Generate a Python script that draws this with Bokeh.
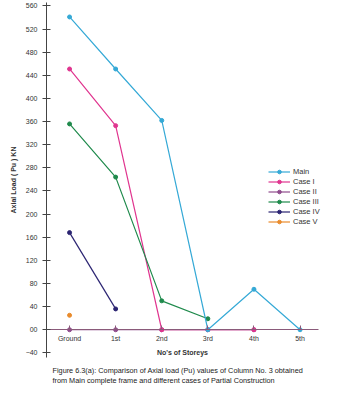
from bokeh.plotting import figure
from bokeh.models import Legend, LegendItem, Title, FixedTicker
from bokeh.embed import file_html
from bokeh.resources import INLINE

storeys = ["Ground", "1st", "2nd", "3rd", "4th", "5th"]
main = [541, 451, 362, 0, 70, 0]
case_i = [451, 353, 0, 0, 0]
case_ii = [0, 0, 0, 0, 0]
case_iii = [356, 264, 50, 19]
case_iv = [168, 36]
case_v = [25]
y_ticks = list(range(-40, 561, 40))

series = [
    ("Main", main, "#35a9d6"),
    ("Case I", case_i, "#e0358f"),
    ("Case II", case_ii, "#8f4b8c"),
    ("Case III", case_iii, "#1f8a4c"),
    ("Case IV", case_iv, "#2b2472"),
    ("Case V", case_v, "#e98b2c"),
]

FONT = "Liberation Sans"

p = figure(width=351, height=405, x_range=(-0.5, 6.116), y_range=(-48, 566),
           output_backend="svg", toolbar_location=None,
           min_border_left=46, min_border_right=0, min_border_top=2, min_border_bottom=48)
p.outline_line_color = None
p.grid.visible = False
p.background_fill_color = "white"

renderers = {}
draw_order = ["Case II", "Case I", "Case III", "Case IV", "Case V", "Main"]
lookup = {s[0]: s for s in series}
for name in draw_order:
    _, vals, col = lookup[name]
    xs = list(range(len(vals)))
    l = p.line(xs, vals, line_color=col, line_width=1.2)
    c = p.scatter(xs, vals, size=4, fill_color=col, line_color=col)
    renderers[name] = [l, c]

items = [LegendItem(label=name, renderers=renderers[name]) for name, _, _ in series]
legend = Legend(items=items, location=(222, 131), border_line_color=None,
                background_fill_alpha=0, label_text_font=FONT, label_text_font_size="7.5px",
                label_text_color="#333333", glyph_width=22, glyph_height=9, label_height=9,
                spacing=1, padding=2, margin=0, label_standoff=3)
p.add_layout(legend)

# x axis crossing at zero
xa = p.xaxis[0]
xa.fixed_location = 0
xa.bounds = (-0.5, 5.4)
xa.ticker = FixedTicker(ticks=list(range(len(storeys))))
xa.major_label_overrides = {i: s for i, s in enumerate(storeys)}
xa.major_tick_in = 4
xa.major_tick_out = 0
xa.minor_tick_line_color = None
xa.axis_line_color = "#8a5a7a"
xa.major_tick_line_color = "#8a5a7a"
xa.major_label_text_font = FONT
xa.major_label_text_font_size = "7px"
xa.major_label_text_color = "#333333"
xa.axis_label = "No's of Storeys"
xa.axis_label_text_font = FONT
xa.axis_label_text_font_size = "7px"
xa.axis_label_text_font_style = "bold"
xa.axis_label_text_color = "#333333"
xa.axis_label_standoff = 4

ya = p.yaxis[0]
ya.ticker = FixedTicker(ticks=y_ticks)
ya.major_label_overrides = {0: "00"}
ya.major_tick_in = 4
ya.major_tick_out = 4
ya.minor_tick_line_color = None
ya.axis_line_color = "#444444"
ya.major_tick_line_color = "#444444"
ya.major_label_text_font = FONT
ya.major_label_text_font_size = "7px"
ya.major_label_text_color = "#333333"
ya.axis_label = "Axial Load ( Pu ) KN"
ya.axis_label_text_font = FONT
ya.axis_label_text_font_size = "7px"
ya.axis_label_text_font_style = "bold"
ya.axis_label_text_color = "#333333"
ya.axis_label_standoff = 6

cap = ("Figure 6.3(a): Comparison of Axial load (Pu) values of Column No. 3 obtained\n"
       "from Main complete frame and different cases of Partial Construction")
p.add_layout(Title(text=cap, align="left", offset=6, standoff=13, text_font=FONT,
                   text_font_size="7.3px", text_font_style="normal", text_color="#222222",
                   text_line_height=1.15), "below")

open("out.html", "w").write(file_html(p, INLINE))
